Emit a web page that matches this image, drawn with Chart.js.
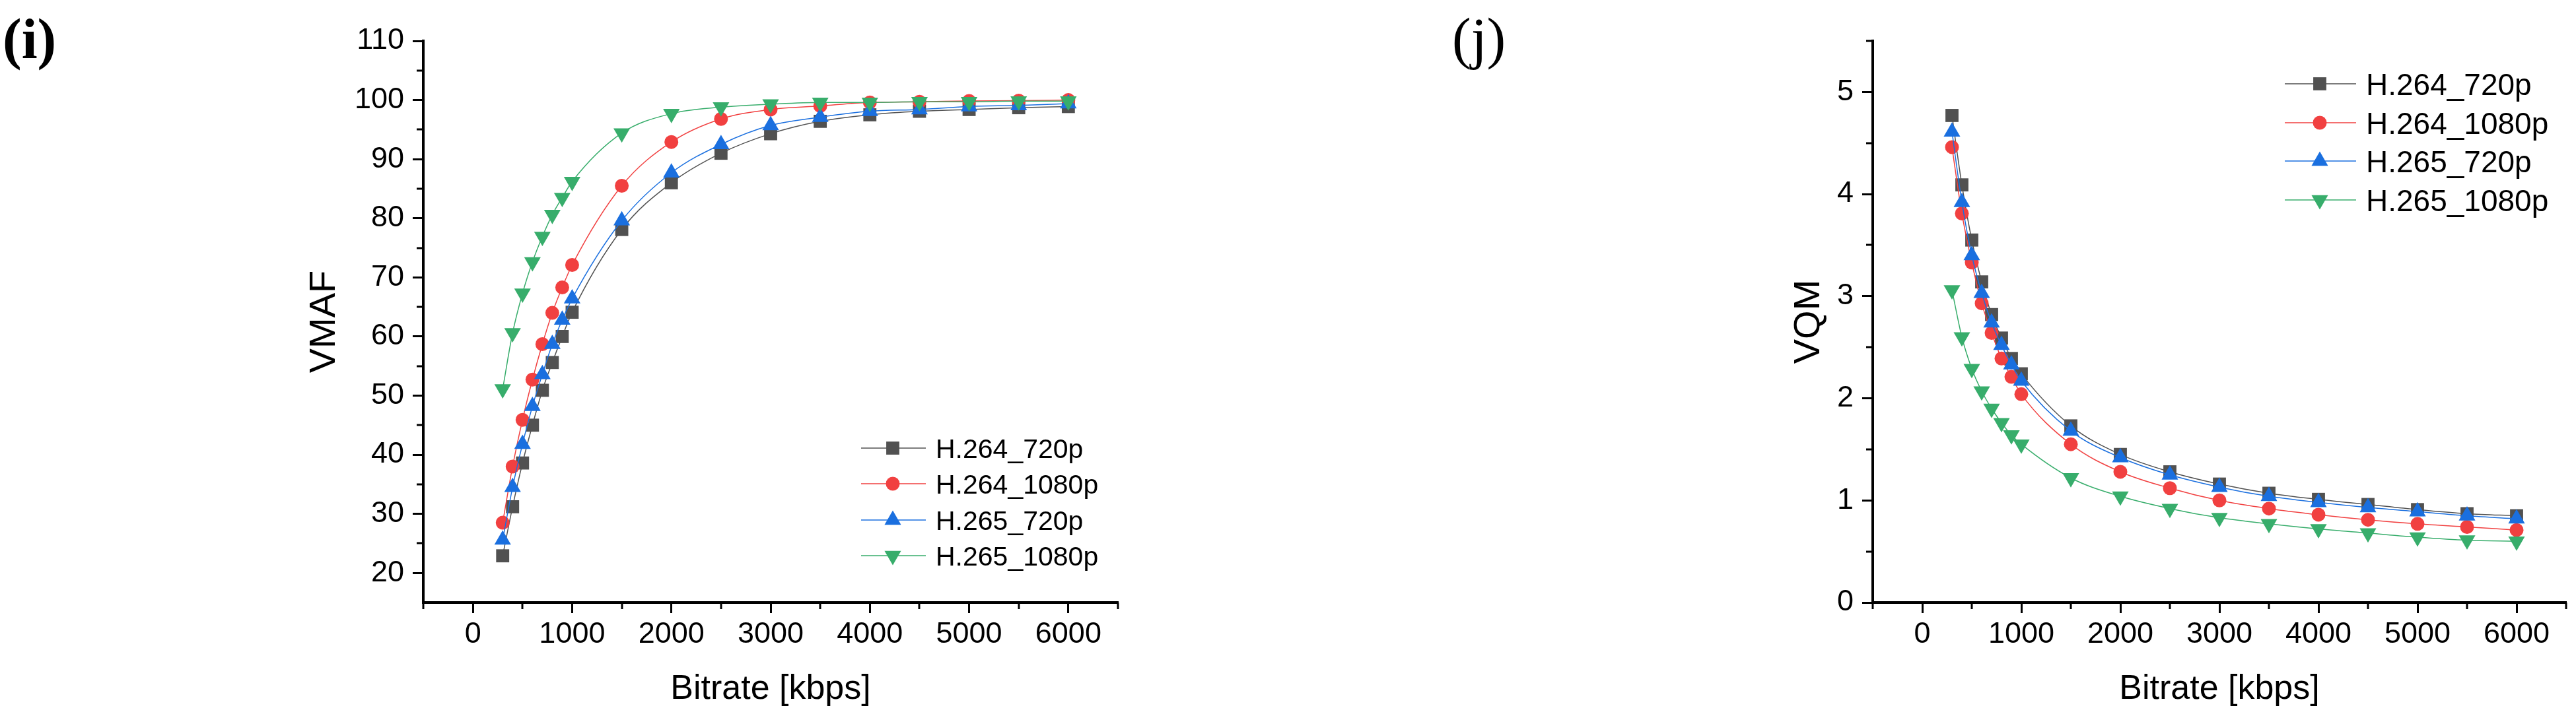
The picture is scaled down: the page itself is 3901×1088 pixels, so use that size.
<!DOCTYPE html>
<html>
<head>
<meta charset="utf-8">
<script src="https://cdn.jsdelivr.net/npm/chart.js@4.4.1/dist/chart.umd.min.js"></script>
<style>
  html, body { margin: 0; padding: 0; background: #fff; }
  #page { position: relative; width: 3901px; height: 1088px; overflow: hidden; background: #fff; }
  canvas { position: absolute; top: 0; }
  .panel-label { position: absolute; font-family: "Liberation Serif", "Times New Roman", serif; font-size: 86px; line-height: 1; color: #000; }
</style>
</head>
<body>
<div id="page">
  <div class="panel-label" style="left:4px; top:16px; font-weight:bold;">(i)</div>
  <div class="panel-label" style="left:2199px; top:15px;">(j)</div>
  <canvas id="chart-vmaf" width="1760" height="1088" style="left:0px"></canvas>
  <canvas id="chart-vqm" width="1951" height="1088" style="left:1950px"></canvas>
</div>
<script>
// ── Data ───────────────────────────────────────────────────────────

const seriesNames = ["H.264_720p", "H.264_1080p", "H.265_720p", "H.265_1080p"];
const bitrates = [300, 400, 500, 600, 700, 800, 900, 1000, 1500, 2000, 2500, 3000, 3500, 4000, 4500, 5000, 5500, 6000];

const vmaf264_720 = [22.9, 31.2, 38.6, 45.0, 50.9, 55.6, 60.0, 64.1, 78.1, 86.0, 91.0, 94.3, 96.4, 97.5, 98.1, 98.4, 98.7, 98.9];
const vmaf264_1080 = [28.5, 38.0, 45.9, 52.7, 58.7, 64.0, 68.3, 72.1, 85.5, 92.9, 96.8, 98.4, 99.0, 99.6, 99.7, 99.85, 99.9, 100.0];
const vmaf265_720 = [25.6, 34.5, 41.8, 48.2, 53.6, 58.7, 62.8, 66.4, 79.6, 87.7, 92.5, 95.7, 97.1, 98.1, 98.4, 98.9, 99.1, 99.4];
const vmaf265_1080 = [51.1, 60.6, 67.3, 72.6, 76.9, 80.6, 83.5, 86.2, 94.4, 97.7, 98.8, 99.3, 99.6, 99.6, 99.7, 99.7, 99.8, 99.8];

const vqm264_720 = [4.77, 4.09, 3.55, 3.14, 2.82, 2.59, 2.39, 2.24, 1.73, 1.45, 1.28, 1.16, 1.07, 1.01, 0.96, 0.91, 0.87, 0.85];
const vqm264_1080 = [4.46, 3.81, 3.33, 2.93, 2.64, 2.39, 2.21, 2.04, 1.55, 1.28, 1.12, 1.00, 0.92, 0.86, 0.81, 0.77, 0.74, 0.71];
const vqm265_720 = [4.61, 3.92, 3.40, 3.03, 2.74, 2.52, 2.33, 2.17, 1.68, 1.42, 1.25, 1.13, 1.04, 0.98, 0.93, 0.89, 0.85, 0.82];
const vqm265_1080 = [3.06, 2.60, 2.29, 2.07, 1.90, 1.76, 1.64, 1.55, 1.22, 1.04, 0.92, 0.83, 0.77, 0.72, 0.68, 0.64, 0.61, 0.60];

const xTicks = [0, 1000, 2000, 3000, 4000, 5000, 6000];
const xMinorTicks = [-500, 500, 1500, 2500, 3500, 4500, 5500, 6500];
const vmafTicks = [20, 30, 40, 50, 60, 70, 80, 90, 100, 110];
const vmafMinorTicks = [25, 35, 45, 55, 65, 75, 85, 95, 105];
const vqmTicks = [0, 1, 2, 3, 4, 5];
const vqmMinorTicks = [0.5, 1.5, 2.5, 3.5, 4.5, 5.5];

// ── Styles ─────────────────────────────────────────────────────────

const FONT = '"Liberation Sans", Arial, sans-serif';
const colors = ["#515151", "#F14040", "#1A6FDF", "#37AD6B"];
const pointStyles = ["rect", "circle", "triangle", "triangle"];
const pointRotations = [0, 0, 0, 180];
const pointRadii = [14, 10.5, 14.5, 14.5];

Chart.defaults.font.family = FONT;
Chart.defaults.color = "#000";

function makeDatasets(valueLists) {
  return valueLists.map(function (vals, i) {
    return {
      label: seriesNames[i],
      data: bitrates.map(function (b, k) { return { x: b, y: vals[k] }; }),
      borderColor: colors[i],
      backgroundColor: colors[i],
      borderWidth: 1.5,
      pointStyle: pointStyles[i],
      pointRotation: pointRotations[i],
      pointRadius: pointRadii[i],
      pointBorderWidth: 0,
      pointBackgroundColor: colors[i],
      tension: 0.35,
      cubicInterpolationMode: "monotone",
      order: 4 - i,
    };
  });
}

function plainNumber(v) { return String(v); }

// Minor ticks (Chart.js has none) + Origin-style legend inside the plot
const originExtras = {
  id: "originExtras",
  afterDraw: function (chart) {
    const ctx = chart.ctx;
    const o = chart.options.plugins.originExtras;
    const xs = chart.scales.x, ys = chart.scales.y;
    const area = chart.chartArea;
    ctx.save();
    ctx.strokeStyle = "#000";
    ctx.lineWidth = 3;
    o.xMinor.forEach(function (v) {
      const px = Math.round(xs.getPixelForValue(v));
      ctx.beginPath(); ctx.moveTo(px, area.bottom); ctx.lineTo(px, area.bottom + 10); ctx.stroke();
    });
    o.yMinor.forEach(function (v) {
      const py = Math.round(ys.getPixelForValue(v));
      ctx.beginPath(); ctx.moveTo(area.left, py); ctx.lineTo(area.left - 10, py); ctx.stroke();
    });

    // legend
    const lg = o.legend;
    ctx.font = lg.fontSize + "px " + FONT;
    ctx.textAlign = "left";
    ctx.textBaseline = "alphabetic";
    chart.data.datasets.forEach(function (ds, i) {
      const y = lg.rows[i];
      ctx.strokeStyle = ds.borderColor;
      ctx.lineWidth = 1.5;
      ctx.beginPath(); ctx.moveTo(lg.lineStart, y); ctx.lineTo(lg.lineEnd, y); ctx.stroke();
      ctx.fillStyle = ds.pointBackgroundColor;
      ctx.strokeStyle = ds.pointBackgroundColor;
      Chart.helpers.drawPoint(ctx, {
        pointStyle: ds.pointStyle,
        rotation: ds.pointRotation,
        radius: ds.pointRadius,
        borderWidth: 0,
      }, lg.markerX, y);
      ctx.fillStyle = "#000";
      ctx.fillText(ds.label, lg.textX, y + lg.fontSize * 0.36);
    });
    ctx.restore();
  },
};

// ── Chart builder ──────────────────────────────────────────────────

function buildChart(canvasId, cfg) {
  const canvas = document.getElementById(canvasId);
  return new Chart(canvas.getContext("2d"), {
    type: "line",
    data: { datasets: makeDatasets(cfg.values) },
    options: {
      responsive: false,
      animation: false,
      devicePixelRatio: 1,
      layout: { padding: { left: cfg.padLeft, top: 62, right: cfg.padRight, bottom: 0 } },
      plugins: {
        legend: { display: false },
        tooltip: { enabled: false },
        originExtras: { xMinor: xMinorTicks, yMinor: cfg.yMinor, legend: cfg.legend },
      },
      scales: {
        x: {
          type: "linear",
          min: -500,
          max: 6500,
          afterBuildTicks: function (s) { s.ticks = xTicks.map(function (v) { return { value: v }; }); },
          afterFit: function (s) { s.height = 175; },
          ticks: { font: { size: 45 }, color: "#000", padding: 6, maxRotation: 0, autoSkip: false, callback: plainNumber },
          grid: { drawOnChartArea: false, drawTicks: true, tickLength: 16, tickWidth: 3, tickColor: "#000" },
          border: { display: true, color: "#000", width: 4 },
          title: { display: true, text: "Bitrate [kbps]", font: { size: 52 }, color: "#000", padding: { top: 0, bottom: 12 } },
        },
        y: {
          type: "linear",
          min: cfg.yMin,
          max: cfg.yMax,
          afterBuildTicks: function (s) { s.ticks = cfg.yTicks.map(function (v) { return { value: v }; }); },
          afterFit: function (s) { s.width = cfg.yAxisWidth; },
          ticks: { font: { size: 45 }, color: "#000", padding: 13, autoSkip: false, callback: plainNumber },
          grid: { drawOnChartArea: false, drawTicks: true, tickLength: 16, tickWidth: 3, tickColor: "#000" },
          border: { display: true, color: "#000", width: 4 },
          title: { display: true, text: cfg.yTitle, font: { size: 56 }, color: "#000", padding: { top: 18, bottom: 0 } },
        },
      },
    },
    plugins: [originExtras],
  });
}

buildChart("chart-vmaf", {
  values: [vmaf264_720, vmaf264_1080, vmaf265_720, vmaf265_1080],
  yMin: 15, yMax: 110, yTicks: vmafTicks, yMinor: vmafMinorTicks, yTitle: "VMAF",
  padLeft: 440, yAxisWidth: 201, padRight: 67,
  legend: { lineStart: 1304, lineEnd: 1402, markerX: 1352, textX: 1417, rows: [679, 733, 788, 842], fontSize: 41 },
});

buildChart("chart-vqm", {
  values: [vqm264_720, vqm264_1080, vqm265_720, vqm265_1080],
  yMin: 0, yMax: 5.5, yTicks: vqmTicks, yMinor: vqmMinorTicks, yTitle: "VQM",
  padLeft: 738, yAxisWidth: 148, padRight: 15,
  legend: { lineStart: 1510, lineEnd: 1618, markerX: 1563, textX: 1633, rows: [127, 186, 244, 303], fontSize: 46 },
});
</script>
</body>
</html>
